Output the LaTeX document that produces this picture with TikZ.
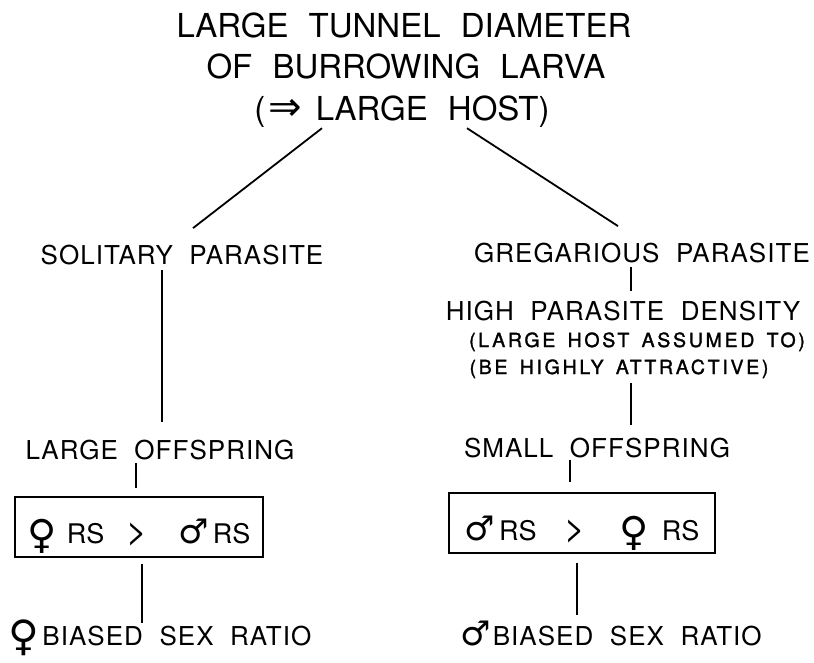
\documentclass[tikz,border=0pt]{standalone}
\usepackage{fontspec}
\setmainfont{TeX Gyre Heros}[WordSpace=2.2]
\newfontfamily\lblf{TeX Gyre Heros}[LetterSpace=4,WordSpace=2.0]
\newfontfamily\symf{DejaVu Sans}
\newfontfamily\notef{TeX Gyre Heros}[LetterSpace=14,WordSpace=1.5,FakeBold=1.5]
\newcommand{\fem}[2]{{\symf\fontsize{#1}{#1}\selectfont\lower#2\hbox{♀}}}
\newcommand{\mal}[1]{{\symf\fontsize{#1}{#1}\selectfont ♂}}
\newcommand{\gtsym}{{\fontsize{36}{36}\selectfont >}}
\begin{document}
\begin{tikzpicture}[x=1pt,y=-1pt,
  ttl/.style={inner sep=0pt, anchor=base, font=\fontsize{33}{40}\selectfont, text depth=0pt},
  lbl/.style={inner sep=0pt, anchor=base, font=\fontsize{26}{30}\lblf\selectfont, text height=18.7pt, text depth=0pt},
  note/.style={inner sep=0pt, anchor=base, font=\fontsize{19.5}{24}\notef\selectfont, text height=14pt, text depth=0pt},
  rsbox/.style={draw, line width=1.8pt, inner sep=0pt, minimum height=60pt, font=\fontsize{27}{30}\selectfont, text depth=0pt},
  conn/.style={line width=1.8pt}
]
\useasboundingbox (0,0) rectangle (814,662);

\node[ttl] (t1) at (404,37) {LARGE TUNNEL DIAMETER};
\node[ttl] (t2) at (406,78) {OF BURROWING LARVA};
\node[ttl] (t3) at (402,120) {(\hspace{3pt}{\symf\fontsize{40}{40}\selectfont ⇒}\hspace{14pt}LARGE HOST)};

\node[lbl] (sol) at (182,264) {SOLITARY PARASITE};
\node[lbl] (greg) at (642,262) {GREGARIOUS PARASITE};
\node[lbl] (high) at (623,320) {HIGH PARASITE DENSITY};
\node[note] (p1) at (637,347) {(LARGE HOST ASSUMED TO)};
\node[note] (p2) at (619,374) {(BE HIGHLY ATTRACTIVE)};
\node[lbl] (lo) at (160,459) {LARGE OFFSPRING};
\node[lbl] (so) at (597,457) {SMALL OFFSPRING};

\node[rsbox, minimum width=248pt, text height=32pt] (box1) at (139,527)
  {\fem{40}{5pt}\hspace{10pt}RS\hspace{22pt}\gtsym\hspace{31pt}\mal{34}\hspace{4pt}RS};
\node[rsbox, minimum width=266pt, text height=34pt] (box2) at (582,523)
  {\mal{34}\hspace{4pt}RS\hspace{28pt}\gtsym\hspace{34pt}\fem{40}{5pt}\hspace{13pt}RS};

\node[lbl] (bl) at (160,645) {\fem{42}{5pt}\hspace{3pt}BIASED SEX RATIO};
\node[lbl] (br) at (611,645) {\mal{34}\hspace{2pt}BIASED SEX RATIO};

\draw[conn] ([xshift=-80pt,yshift=-8pt]t3.south) -- ([xshift=11pt,yshift=17pt]sol.north);
\draw[conn] ([xshift=65pt,yshift=-8pt]t3.south) -- ([xshift=-24pt,yshift=17pt]greg.north);
\draw[conn,shorten <=6pt,shorten >=18pt] ([xshift=-20pt]sol.south) -- ([xshift=-20pt]sol.south |- lo.north);
\draw[conn,shorten <=4pt,shorten >=8pt] ([xshift=-24pt]lo.south) -- ([xshift=-24pt]lo.south |- box1.north);
\draw[conn,shorten <=6pt,shorten >=3pt] ([xshift=3pt]box1.south) -- ([xshift=3pt]box1.south |- bl.north);
\draw[conn,shorten <=5pt,shorten >=10pt] ([xshift=-11pt]greg.south) -- ([xshift=-11pt]greg.south |- high.north);
\draw[conn,shorten <=9pt,shorten >=13pt] ([xshift=12pt]p2.south) -- ([xshift=12pt]p2.south |- so.north);
\draw[conn,shorten <=3pt,shorten >=10pt] ([xshift=-27pt]so.south) -- ([xshift=-27pt]so.south |- box2.north);
\draw[conn,shorten <=9pt,shorten >=11pt] ([xshift=-5pt]box2.south) -- ([xshift=-5pt]box2.south |- br.north);
\end{tikzpicture}
\end{document}
